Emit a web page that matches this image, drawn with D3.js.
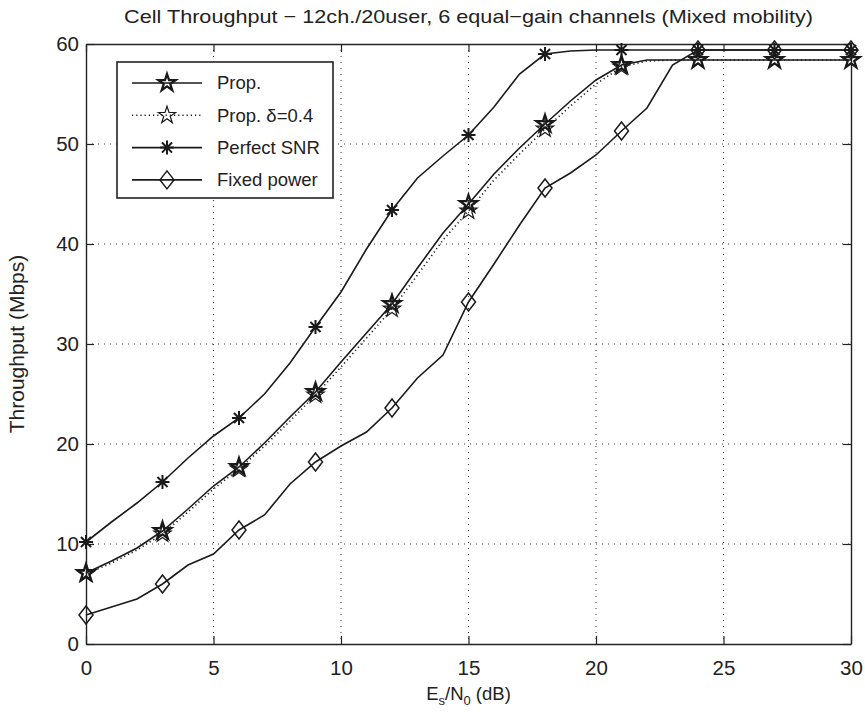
<!DOCTYPE html>
<html>
<head>
<meta charset="utf-8">
<script src="https://cdn.jsdelivr.net/npm/d3@7"></script>
<style>
  body { margin: 0; background: #fff; }
  text { font-family: "Liberation Sans", Arial, Helvetica, sans-serif; fill: #222; }
</style>
</head>
<body>
<div id="my_chart"></div>
<script>
// Es/N0 values (dB) where the curves were sampled
var snr = [0,1,2,3,4,5,6,7,8,9,10,11,12,13,14,15,16,17,18,19,20,21,22,23,24,25,26,27,28,29,30]

// throughput (Mbps) for each scheme
var prop = [7.1,8.3,9.6,11.3,13.5,15.8,17.7,20.1,22.7,25.2,28.2,31.1,34.0,37.6,41.1,44.0,47.0,49.6,52.0,54.3,56.4,57.9,58.4,58.4,58.4,58.4,58.4,58.4,58.4,58.4,58.4]
var propDelta = [7.0,8.1,9.4,11.0,13.2,15.5,17.5,19.8,22.3,24.9,27.7,30.6,33.5,36.9,40.4,43.3,46.4,49.0,51.5,53.8,56.0,57.7,58.3,58.4,58.4,58.4,58.4,58.4,58.4,58.4,58.4]
var perfectSnr = [10.2,12.2,14.1,16.2,18.6,20.8,22.6,25.0,28.1,31.7,35.2,39.5,43.4,46.6,48.8,50.9,53.7,57.0,59.0,59.3,59.4,59.4,59.4,59.4,59.4,59.4,59.4,59.4,59.4,59.4,59.4]
var fixedPower = [2.9,3.7,4.5,6.0,7.9,9.0,11.4,12.9,16.0,18.2,19.8,21.2,23.6,26.6,28.9,34.2,38.0,41.9,45.6,47.1,48.9,51.3,53.6,57.9,59.4,59.4,59.4,59.4,59.4,59.4,59.4]

var seriesNames = ["Prop.", "Prop. δ=0.4", "Perfect SNR", "Fixed power"]
var xTicks = [0,5,10,15,20,25,30]
var yTicks = [0,10,20,30,40,50,60]

// set the dimensions and margins of the graph
var width = 865,
    height = 714,
    margin = {top: 44, right: 14, bottom: 70, left: 86}
var innerW = width - margin.left - margin.right,
    innerH = height - margin.top - margin.bottom

var svg = d3.select("#my_chart")
  .append("svg")
    .attr("width", width)
    .attr("height", height)

var g = svg.append("g")
  .attr("transform", "translate(" + margin.left + "," + margin.top + ")")

var x = d3.scaleLinear().domain([0, 30]).range([0, innerW])
var y = d3.scaleLinear().domain([0, 60]).range([innerH, 0])

// marker shapes (MATLAB style)
function pentagram(R) {
  var r = R * 0.382, pts = []
  for (var i = 0; i < 10; i++) {
    var a = -Math.PI / 2 + i * Math.PI / 5, rr = i % 2 ? r : R
    pts.push([rr * Math.cos(a), rr * Math.sin(a)])
  }
  return "M" + pts.map(function(p){ return p[0].toFixed(2) + "," + p[1].toFixed(2) }).join("L") + "Z"
}
function asterisk(R) {
  var d = R * 0.72
  return "M" + (-R) + ",0L" + R + ",0M0," + (-R) + "L0," + R +
    "M" + (-d) + "," + (-d) + "L" + d + "," + d + "M" + (-d) + "," + d + "L" + d + "," + (-d)
}
function diamond(w, h) {
  return "M0," + (-h) + "L" + w + ",0L0," + h + "L" + (-w) + ",0Z"
}

var series = [
  {name: seriesNames[0], values: prop, dash: null, marker: pentagram(9), sw: 2.3},
  {name: seriesNames[1], values: propDelta, dash: "1.2,3", marker: pentagram(9), sw: 1.2},
  {name: seriesNames[2], values: perfectSnr, dash: null, marker: asterisk(7), sw: 2},
  {name: seriesNames[3], values: fixedPower, dash: null, marker: diamond(7, 9), sw: 1.5}
]

// grid lines (dotted)
g.selectAll(".vgrid")
  .data(xTicks.slice(1, -1))
  .enter().append("line")
    .attr("x1", function(d){ return x(d) }).attr("x2", function(d){ return x(d) })
    .attr("y1", 0).attr("y2", innerH)
    .attr("stroke", "#333").attr("stroke-width", 1)
    .attr("stroke-dasharray", "1,5")
g.selectAll(".hgrid")
  .data(yTicks.slice(1, -1))
  .enter().append("line")
    .attr("y1", function(d){ return y(d) }).attr("y2", function(d){ return y(d) })
    .attr("x1", 0).attr("x2", innerW)
    .attr("stroke", "#333").attr("stroke-width", 1)
    .attr("stroke-dasharray", "1,5")

// axes with inward ticks on all four sides
function styleAxis(sel) {
  sel.select(".domain").attr("stroke", "#222").attr("stroke-width", 1.4)
  sel.selectAll(".tick line").attr("stroke", "#222").attr("stroke-width", 1.2)
  sel.selectAll("text").attr("font-size", 20.5).attr("fill", "#222")
    .attr("font-family", "Liberation Sans, Arial, sans-serif")
}
g.append("g").attr("transform", "translate(0," + innerH + ")")
  .call(d3.axisBottom(x).tickValues(xTicks).tickSizeInner(-8).tickSizeOuter(0).tickPadding(16))
  .call(styleAxis)
g.append("g")
  .call(d3.axisLeft(y).tickValues(yTicks).tickSizeInner(-8).tickSizeOuter(0).tickPadding(7))
  .call(styleAxis)
g.append("g")
  .call(d3.axisTop(x).tickValues(xTicks).tickSizeInner(-8).tickSizeOuter(0).tickFormat(""))
  .call(styleAxis)
g.append("g").attr("transform", "translate(" + innerW + ",0)")
  .call(d3.axisRight(y).tickValues(yTicks).tickSizeInner(-8).tickSizeOuter(0).tickFormat(""))
  .call(styleAxis)

// curves
var line = d3.line()
  .x(function(d, i){ return x(snr[i]) })
  .y(function(d){ return y(d) })

series.forEach(function(s) {
  g.append("path")
    .datum(s.values)
    .attr("d", line)
    .attr("fill", "none")
    .attr("stroke", "#1a1a1a")
    .attr("stroke-width", 1.6)
    .attr("stroke-dasharray", s.dash)

  // markers every 3 dB
  g.selectAll(null)
    .data(s.values.filter(function(d, i){ return snr[i] % 3 === 0 }))
    .enter().append("path")
      .attr("d", s.marker)
      .attr("transform", function(d, i){ return "translate(" + x(i * 3) + "," + y(d) + ")" })
      .attr("fill", "none")
      .attr("stroke", "#1a1a1a")
      .attr("stroke-width", s.sw)
})

// legend
var legend = svg.append("g").attr("transform", "translate(117,62)")
legend.append("rect")
  .attr("width", 216).attr("height", 136)
  .attr("fill", "#fff").attr("stroke", "#222").attr("stroke-width", 1.6)
var row = legend.selectAll(".row")
  .data(series)
  .enter().append("g")
    .attr("transform", function(d, i){ return "translate(0," + (21 + i * 32.3) + ")" })
row.append("line")
  .attr("x1", 15).attr("x2", 85)
  .attr("stroke", "#1a1a1a").attr("stroke-width", 1.6)
  .attr("stroke-dasharray", function(d){ return d.dash })
row.append("path")
  .attr("d", function(d){ return d.marker })
  .attr("transform", "translate(50,0)")
  .attr("fill", "none").attr("stroke", "#1a1a1a")
  .attr("stroke-width", function(d){ return d.sw })
row.append("text")
  .attr("x", 100).attr("dy", "0.35em")
  .attr("font-size", 18.5)
  .text(function(d){ return d.name })

// title and axis labels
svg.append("text")
  .attr("x", margin.left + innerW / 2).attr("y", 23)
  .attr("text-anchor", "middle").attr("font-size", 19)
  .attr("textLength", 689).attr("lengthAdjust", "spacingAndGlyphs")
  .text("Cell Throughput − 12ch./20user, 6 equal−gain channels (Mixed mobility)")

var xl = svg.append("text")
  .attr("x", margin.left + innerW / 2).attr("y", 700)
  .attr("text-anchor", "middle").attr("font-size", 18.5)
xl.append("tspan").text("E")
xl.append("tspan").attr("font-size", 13).attr("dy", 5).text("s")
xl.append("tspan").attr("dy", -5).text("/N")
xl.append("tspan").attr("font-size", 13).attr("dy", 5).text("0")
xl.append("tspan").attr("dy", -5).text(" (dB)")

svg.append("text")
  .attr("transform", "translate(24," + (margin.top + innerH / 2) + ") rotate(-90)")
  .attr("text-anchor", "middle").attr("font-size", 21)
  .text("Throughput (Mbps)")
</script>
</body>
</html>
